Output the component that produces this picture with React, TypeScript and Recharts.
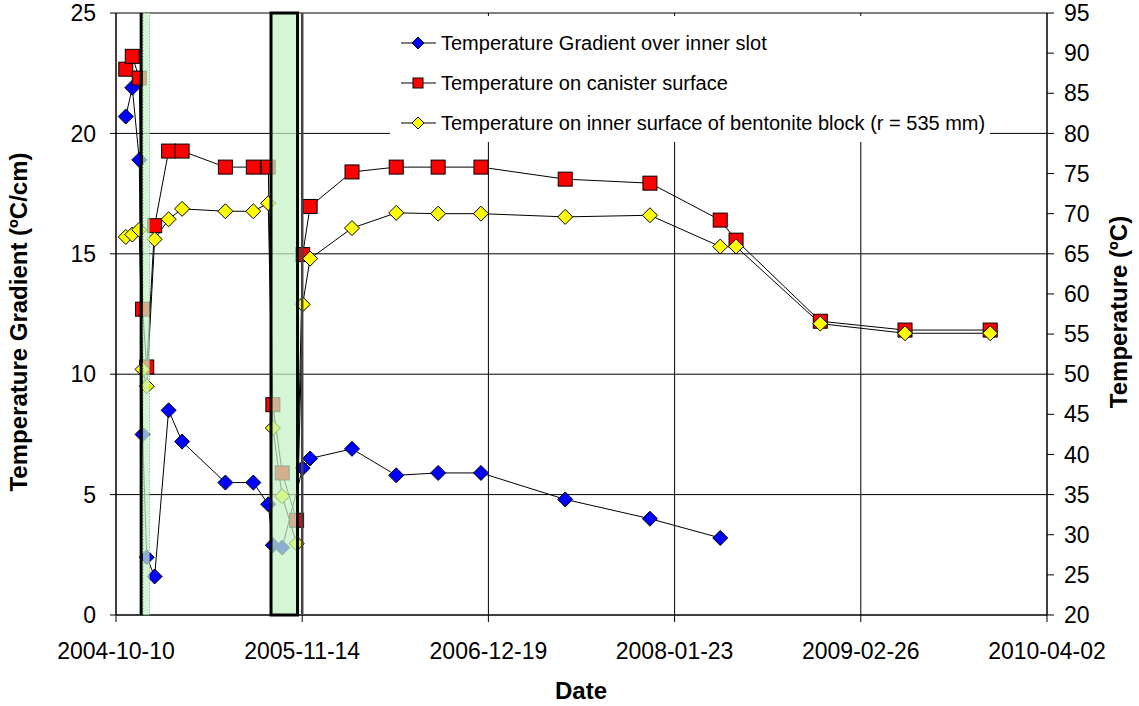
import {
  ComposedChart,
  Line,
  XAxis,
  YAxis,
  CartesianGrid,
  ReferenceArea,
  ReferenceLine,
  Legend,
} from 'recharts';

const sampleDates = [
  '2004-10-31', '2004-11-14', '2004-11-29', '2004-12-06', '2004-12-15', '2005-01-01',
  '2005-01-31', '2005-03-01', '2005-06-02', '2005-08-01', '2005-09-02', '2005-09-12',
  '2005-10-02', '2005-11-02', '2005-11-15', '2005-12-01', '2006-03-01', '2006-06-04',
  '2006-09-02', '2006-12-03', '2007-06-02', '2007-12-01', '2008-04-30', '2008-06-03',
  '2008-12-01', '2009-06-01', '2009-12-01',
];
const gradient = [
  20.7, 21.9, 18.9, 7.5, 2.4, 1.6, 8.5, 7.2, 5.5, 5.5, 4.6, 2.9, 2.8, null, 6.1, 6.5,
  6.9, 5.8, 5.9, 5.9, 4.8, 4.0, 3.2, null, null, null, null,
];
const canister = [
  88.0, 89.6, 86.9, 58.1, 50.9, 68.5, 77.8, 77.8, 75.8, 75.8, 75.8, 46.2, 37.7, 31.8, 64.9,
  70.9, 75.2, 75.8, 75.8, 75.8, 74.3, 73.8, 69.2, 66.7, 56.6, 55.5, 55.5,
];
const bentonite = [
  67.1, 67.4, 68.0, 50.6, 48.5, 66.8, 69.3, 70.6, 70.3, 70.3, 71.3, 43.3, 34.8, 28.9, 58.7,
  64.4, 68.2, 70.1, 70.0, 70.0, 69.6, 69.8, 65.9, 65.9, 56.3, 55.1, 55.1,
];

const seriesNames = [
  'Temperature Gradient over inner slot',
  'Temperature on canister surface',
  'Temperature on inner surface of bentonite block (r = 535 mm)',
];

const xTickDates = ['2004-10-10', '2005-11-14', '2006-12-19', '2008-01-23', '2009-02-26', '2010-04-02'];
const gradTicks = [0, 5, 10, 15, 20, 25];
const tempTicks = [20, 25, 30, 35, 40, 45, 50, 55, 60, 65, 70, 75, 80, 85, 90, 95];

// heater stops (shaded in the original)
const stopLine1 = '2004-12-03';
const stopBand1 = ['2004-12-07', '2004-12-21'];
const stopBand2 = ['2005-09-08', '2005-11-04'];
const stopLine2 = '2005-11-14';

const FONT = '"Liberation Sans", Arial, sans-serif';

const utc = (s: string) => {
  const [y, m, d] = s.split('-').map(Number);
  return Date.UTC(y, m - 1, d);
};
const ORIGIN = utc(xTickDates[0]);
const toDay = (s: string) => Math.round((utc(s) - ORIGIN) / 86400000);

const data = sampleDates.map((d, i) => ({
  day: toDay(d),
  gradient: gradient[i],
  canister: canister[i],
  bentonite: bentonite[i],
}));

const xTicks = xTickDates.map(toDay);
const xLabel: Record<number, string> = {};
xTickDates.forEach((d) => (xLabel[toDay(d)] = d));

const diamondDot = (fill: string) => (props: any) => {
  const { cx, cy, index } = props;
  if (cx == null || cy == null || props.value == null) return <g key={`e-${index}`} />;
  const r = 7.5;
  return (
    <path
      key={`d-${index}`}
      d={`M${cx},${cy - r}L${cx + r},${cy}L${cx},${cy + r}L${cx - r},${cy}Z`}
      fill={fill}
      stroke="#000"
      strokeWidth={1}
    />
  );
};

const squareDot = (fill: string) => (props: any) => {
  const { cx, cy, index } = props;
  if (cx == null || cy == null || props.value == null) return <g key={`e-${index}`} />;
  const h = 7;
  return <rect key={`s-${index}`} x={cx - h} y={cy - h} width={2 * h} height={2 * h} fill={fill} stroke="#000" strokeWidth={1} />;
};

function LegendMarker({ shape, fill }: { shape: string; fill: string }) {
  return (
    <svg width={37} height={20} style={{ display: 'block' }}>
      <line x1={1} y1={10} x2={36} y2={10} stroke="#000" strokeWidth={1} />
      {shape === 'square' ? (
        <rect x={13} y={5} width={10} height={10} fill={fill} stroke="#000" />
      ) : (
        <path d="M18,4L24,10L18,16L12,10Z" fill={fill} stroke="#000" />
      )}
    </svg>
  );
}

function ChartLegend() {
  const items = [
    { name: seriesNames[0], shape: 'diamond', fill: '#0000ff' },
    { name: seriesNames[1], shape: 'square', fill: '#ff0000' },
    { name: seriesNames[2], shape: 'diamond', fill: '#ffff00' },
  ];
  return (
    <div style={{ background: '#fff', width: 600, height: 126, paddingTop: 7, boxSizing: 'border-box' }}>
      {items.map((it) => (
        <div key={it.name} style={{ display: 'flex', alignItems: 'center', height: 40, paddingLeft: 10 }}>
          <LegendMarker shape={it.shape} fill={it.fill} />
          <span style={{ fontFamily: FONT, fontSize: 20, color: '#000', marginLeft: 4, whiteSpace: 'nowrap' }}>{it.name}</span>
        </div>
      ))}
    </div>
  );
}

const tickStyle = { fontSize: 23, fill: '#000', fontFamily: FONT };
const titleStyle = { fontSize: 24, fontWeight: 700, fill: '#000', fontFamily: FONT };

export default function App() {
  return (
    <div style={{ position: 'absolute', left: 0, top: 0, width: 1139, height: 706, background: '#fff', fontFamily: FONT }}>
      <ComposedChart width={1139} height={706} data={data} margin={{ top: 13, right: 32, bottom: 41, left: 56 }}>
        <CartesianGrid yAxisId="g" stroke="#000" strokeWidth={1} horizontal vertical />
        <XAxis
          dataKey="day"
          type="number"
          domain={[0, 2000]}
          ticks={xTicks}
          tickFormatter={(v) => xLabel[v] ?? ''}
          tick={tickStyle}
          tickSize={7}
          tickMargin={21}
          height={50}
          stroke="#000"
          allowDataOverflow
          label={{
            content: () => (
              <text x={581} y={699} textAnchor="middle" style={titleStyle}>
                Date
              </text>
            ),
          }}
        />
        <YAxis
          yAxisId="g"
          orientation="left"
          domain={[0, 25]}
          ticks={gradTicks}
          tick={tickStyle}
          tickSize={6}
          tickMargin={14}
          width={60}
          stroke="#000"
          label={{
            content: () => (
              <text x={27} y={322} transform="rotate(-90 27 322)" textAnchor="middle" style={titleStyle}>
                Temperature Gradient (ºC/cm)
              </text>
            ),
          }}
        />
        <YAxis
          yAxisId="t"
          orientation="right"
          domain={[20, 95]}
          ticks={tempTicks}
          tick={tickStyle}
          tickSize={7}
          tickMargin={10}
          width={60}
          stroke="#000"
          label={{
            content: () => (
              <text x={1127} y={312} transform="rotate(-90 1127 312)" textAnchor="middle" style={titleStyle}>
                Temperature (ºC)
              </text>
            ),
          }}
        />
        <Line
          yAxisId="g"
          dataKey="gradient"
          name={seriesNames[0]}
          stroke="#000"
          strokeWidth={1}
          dot={diamondDot('#0000ff')}
          activeDot={false}
          connectNulls
          isAnimationActive={false}
        />
        <Line
          yAxisId="t"
          dataKey="canister"
          name={seriesNames[1]}
          stroke="#000"
          strokeWidth={1}
          dot={squareDot('#ff0000')}
          activeDot={false}
          isAnimationActive={false}
        />
        <Line
          yAxisId="t"
          dataKey="bentonite"
          name={seriesNames[2]}
          stroke="#000"
          strokeWidth={1}
          dot={diamondDot('#ffff00')}
          activeDot={false}
          isAnimationActive={false}
        />
        <ReferenceArea
          yAxisId="g"
          x1={toDay(stopBand1[0])}
          x2={toDay(stopBand1[1])}
          fill="#c4f2c4"
          fillOpacity={0.72}
          stroke="#6aa86a"
          strokeDasharray="1 2"
          strokeWidth={1}
          zIndex={700}
        />
        <ReferenceArea
          yAxisId="g"
          x1={toDay(stopBand2[0])}
          x2={toDay(stopBand2[1])}
          fill="#c4f2c4"
          fillOpacity={0.72}
          stroke="#000"
          strokeWidth={3}
          zIndex={700}
        />
        <ReferenceLine yAxisId="g" x={toDay(stopLine1)} stroke="#000" strokeWidth={3} zIndex={710} />
        <ReferenceLine yAxisId="g" x={toDay(stopLine2)} stroke="#444" strokeWidth={2.5} zIndex={710} />
        <Legend
          layout="horizontal"
          verticalAlign="middle"
          align="center"
          content={() => <ChartLegend />}
          wrapperStyle={{ left: 390, top: 16, width: 600, height: 126 }}
        />
      </ComposedChart>
    </div>
  );
}
